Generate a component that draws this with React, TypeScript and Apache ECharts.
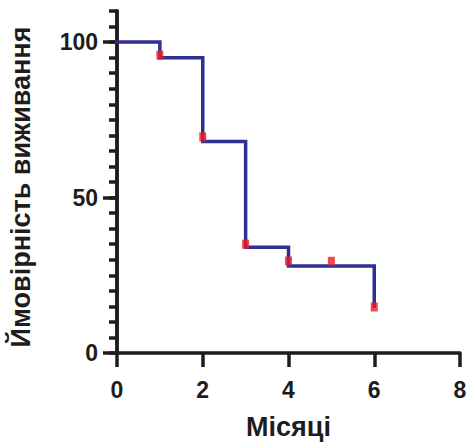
import React, { useEffect, useRef } from "react";
import * as echarts from "echarts";

const stepPoints: [number, number][] = [
  [0, 100],
  [1, 95],
  [2, 68],
  [3, 34],
  [4, 28],
  [6, 15],
];
const censorPoints: [number, number][] = [
  [1, 95.8],
  [2, 69.5],
  [3, 35],
  [4, 29.6],
  [5, 29.5],
  [6, 14.8],
];
const yMajorTicks = [0, 50, 100];
const xTitle = "Місяці";
const yTitle = "Ймовірність виживання";

const FONT = "'Liberation Sans', Arial, sans-serif";
const INK = "#1f1c1d";

export default function App() {
  const ref = useRef<HTMLDivElement>(null);
  useEffect(() => {
    if (!ref.current) return;
    const chart = echarts.init(ref.current, undefined, { renderer: "svg" });
    chart.setOption({
      animation: false,
      backgroundColor: "#ffffff",
      grid: { left: 117, right: 7, top: 11, bottom: 90, outerBoundsMode: "none" },
      graphic: [
        {
          type: "text",
          x: 21,
          y: 187,
          rotation: Math.PI / 2,
          style: {
            text: yTitle,
            fontFamily: FONT,
            fontWeight: "bold",
            fontSize: 27,
            fill: INK,
            align: "center",
            verticalAlign: "middle",
          },
        },
      ],
      xAxis: {
        type: "value",
        min: 0,
        max: 8,
        interval: 2,
        name: xTitle,
        nameLocation: "middle",
        nameGap: 60,
        nameTextStyle: { fontFamily: FONT, fontWeight: "bold", fontSize: 27, color: INK },
        axisLine: { lineStyle: { color: INK, width: 3.5 } },
        axisTick: { inside: false, length: 14, lineStyle: { color: INK, width: 3.5 } },
        axisLabel: { margin: 25, fontFamily: FONT, fontWeight: "bold", fontSize: 23, color: INK },
        splitLine: { show: false },
      },
      yAxis: [
        {
          type: "value",
          position: "left",
          min: 0,
          max: 110,
          interval: 5,
          axisLine: { show: true, lineStyle: { color: INK, width: 3.5 } },
          axisTick: { length: 8, lineStyle: { color: INK, width: 3.5 } },
          axisLabel: { show: false },
          splitLine: { show: false },
        },
        {
          type: "value",
          position: "left",
          offset: 0,
          min: 0,
          max: 110,
          axisLine: { show: true, lineStyle: { color: INK, width: 3.5 } },
          axisTick: { length: 14, customValues: yMajorTicks, lineStyle: { color: INK, width: 3.5 } },
          axisLabel: {
            margin: 19,
            customValues: yMajorTicks,
            fontFamily: FONT,
            fontWeight: "bold",
            fontSize: 23,
            color: INK,
          },
          splitLine: { show: false },
        },
      ],
      series: [
        {
          type: "line",
          yAxisIndex: 0,
          step: "end",
          data: stepPoints,
          symbol: "none",
          lineStyle: { color: "#2e3192", width: 3.5, cap: "square", join: "miter" },
          z: 3,
        },
        {
          type: "scatter",
          yAxisIndex: 0,
          data: censorPoints,
          symbol: "rect",
          symbolSize: [7, 9],
          itemStyle: { color: "#ed1c24" },
          z: 4,
        },
      ],
    });
    return () => chart.dispose();
  }, []);
  return (
    <div
      ref={ref}
      style={{ position: "fixed", left: 0, top: 0, width: 467, height: 443 }}
    />
  );
}
